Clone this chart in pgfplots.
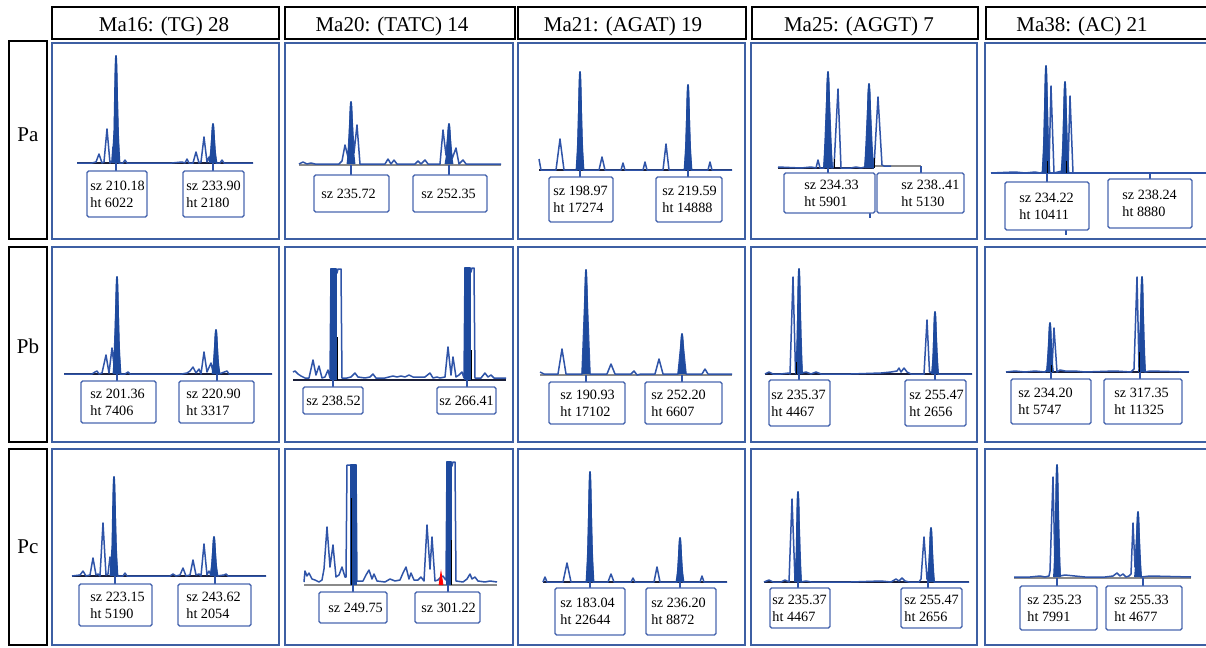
\documentclass[border=0pt]{standalone}
\usepackage{fontspec}
\setmainfont{Liberation Serif}
\usepackage{pgfplots}
\pgfplotsset{compat=1.18}
\definecolor{tr}{HTML}{2F54A8}
\definecolor{fb}{HTML}{1E4A9E}
\definecolor{pb}{HTML}{3D5FA3}
\definecolor{bx}{HTML}{4A68B0}
\definecolor{dk}{HTML}{1A1F3A}
\definecolor{gr}{HTML}{8A8A8A}
\tikzset{
 trc/.style={draw=tr, line width=0.75pt, mark=none, line join=round},
 fpk/.style={fill=fb, draw=fb, line width=0.9pt, mark=none, line join=round},
 bl/.style={draw=#1, line width=1.1pt, mark=none},
 tk/.style={draw=tr, line width=1.2pt, mark=none},
 blk/.style={draw=black, line width=0.5pt, mark=none},
 lbox/.style={draw=bx, line width=0.7pt, rounded corners=0.8pt, fill=white},
 lt/.style={anchor=west, align=left, font=\fontsize{7.1}{8.6}\selectfont, inner sep=0pt},
}
\pgfplotsset{
 panel/.style n args={4}{at={(#1*0.5pt,-#2*0.5pt)}, anchor=north west, x=0.5pt, y=0.5pt,
   xmin=0, xmax=#3, ymin=0, ymax=#4, y dir=reverse, ticks=none,
   axis line style={draw=pb, line width=1pt}, clip=false},
}
\newcommand{\LB}[6]{\draw[lbox] (#1,#2) rectangle (#3,#4); \node[lt] at (#5,{(#2+#4)/2}) {#6};}
\begin{document}
\begin{tikzpicture}
\useasboundingbox (0,0) rectangle (603pt,-324pt);
\fill[white] (0,0) rectangle (603pt,-324pt);
\clip (0,0) rectangle (603pt,-324pt);
\begin{scope}[x=0.5pt,y=-0.5pt]
\draw[line width=0.6pt] (52,7) rectangle (279,39);
\draw[line width=0.6pt] (285,7) rectangle (515,39);
\draw[line width=0.6pt] (518,7) rectangle (746,39);
\draw[line width=0.6pt] (752,7) rectangle (978,39);
\draw[line width=0.6pt] (986,7) rectangle (1212,39);
\node[anchor=base, font=\fontsize{10.5}{12}\selectfont, inner sep=0pt] at (164,32) {Ma16: (TG) 28};
\node[anchor=base, font=\fontsize{10.5}{12}\selectfont, inner sep=0pt] at (392,32) {Ma20: (TATC) 14};
\node[anchor=base, font=\fontsize{10.5}{12}\selectfont, inner sep=0pt] at (623,32) {Ma21: (AGAT) 19};
\node[anchor=base, font=\fontsize{10.5}{12}\selectfont, inner sep=0pt] at (859,32) {Ma25: (AGGT) 7};
\node[anchor=base, font=\fontsize{10.5}{12}\selectfont, inner sep=0pt] at (1082,32) {Ma38: (AC) 21};
\draw[line width=0.75pt] (9,41) rectangle (47,239);
\draw[line width=0.75pt] (9,247) rectangle (47,442);
\draw[line width=0.75pt] (9,449) rectangle (47,645);
\node[anchor=base, font=\fontsize{10.5}{12}\selectfont, inner sep=0pt] at (28,141) {Pa};
\node[anchor=base, font=\fontsize{10.5}{12}\selectfont, inner sep=0pt] at (28,353) {Pb};
\node[anchor=base, font=\fontsize{10.5}{12}\selectfont, inner sep=0pt] at (28,553) {Pc};
\end{scope}

% ---------- Row Pa ----------
\begin{axis}[panel={52}{43}{227}{196}]
\addplot[bl=dk] coordinates {(25,120)(201,120)};
\addplot[trc] coordinates {(25,120)(40,120)(44,119)(47,111)(50,120)(52,119)(55,86)(58,120)(60,118)(61,104)(62,112)(64,13)(67,120)(71,120)(73,117)(75,120)(120,120)(130,119)(133,120)(135,116)(137,120)(141,120)(144,109)(147,120)(149,119)(152,94)(155,119)(157,114)(158,119)(161,81)(164,120)(168,120)(170,117)(172,120)(201,120)};
\addplot[fpk] coordinates {(60.5,120)(62.4,88)(63.5,24)(64,13)(64.5,24)(65.6,88)(67.5,120)};
\addplot[fpk] coordinates {(157.5,120)(159.4,108)(160.5,85)(161,81)(161.5,85)(162.6,108)(164.5,120)};
\addplot[tk] coordinates {(64,120)(64,128)};
\addplot[tk] coordinates {(161,120)(161,128)};
\LB{35}{128}{95}{174}{38}{sz 210.18\\ht 6022}
\LB{131}{128}{192}{174}{134}{sz 233.90\\ht 2180}
\end{axis}

\begin{axis}[panel={285}{43}{228}{196}]
\addplot[bl=gr] coordinates {(14,122)(216,122)};
\addplot[trc] coordinates {(14,121)(18,119)(22,121)(26,120)(30,121)(54,121)(57,118)(60,102)(63,114)(66,59)(69,110)(72,82)(75,121)(100,121)(103,116)(106,121)(109,117)(112,121)(130,121)(133,118)(136,121)(140,117)(143,121)(155,121)(158,87)(161,112)(164,81)(167,116)(171,105)(174,121)(176,119)(178,117)(181,121)(216,121)};
\addplot[fpk] coordinates {(62.5,121)(64.4,102)(65.5,65)(66,59)(66.5,65)(67.6,102)(69.5,121)};
\addplot[fpk] coordinates {(160.5,121)(162.4,109)(163.5,85)(164,81)(164.5,85)(165.6,109)(167.5,121)};
\addplot[tk] coordinates {(66,122)(66,132)};
\addplot[tk] coordinates {(164,122)(164,132)};
\LB{29}{132}{104}{169}{36}{sz 235.72}
\LB{128}{132}{202}{169}{136}{sz 252.35}
\end{axis}

\begin{axis}[panel={518}{43}{227}{196}]
\addplot[bl=dk] coordinates {(21,127)(214,127)};
\addplot[trc] coordinates {(21,116)(23,127)(38,127)(42,96)(46,127)(59,127)(62,29)(65,127)(81,127)(84,114)(87,127)(103,127)(105,120)(107,127)(125,127)(127,119)(129,127)(145,127)(148,101)(151,127)(167,127)(170,42)(173,127)(190,127)(192,119)(194,127)(214,127)};
\addplot[fpk] coordinates {(58.5,127)(60.4,98)(61.5,39)(62,29)(62.5,39)(63.6,98)(65.5,127)};
\addplot[fpk] coordinates {(166.5,127)(168.4,101)(169.5,50)(170,42)(170.5,50)(171.6,101)(173.5,127)};
\addplot[tk] coordinates {(62,127)(62,134)};
\addplot[tk] coordinates {(170,127)(170,134)};
\LB{31}{134}{95}{179}{35}{sz 198.97\\ht 17274}
\LB{138}{134}{204}{179}{144}{sz 219.59\\ht 14888}
\end{axis}

\begin{axis}[panel={751}{43}{226}{196}]
\addplot[bl=dk] coordinates {(27,125)(123,125)};
\addplot[draw=gr, line width=0.6pt] coordinates {(123,123)(170,123)};
\addplot[trc] coordinates {(27,124)(50,125)(60,124)(65,125)(67,117)(69,125)(73,125)(77,29)(81,125)(83,124)(87,46)(90,125)(100,125)(105,124)(110,125)(114,124)(118,41)(122,125)(123,124)(127,54)(131,122)(133,123)(140,123)};
\addplot[fpk] coordinates {(73,125)(75,96)(76.4,39)(77,29)(77.6,39)(79,96)(81,125)};
\addplot[fpk] coordinates {(114,125)(116,100)(117.4,49)(118,41)(118.6,49)(120,100)(122,125)};
\addplot[blk] coordinates {(83,116)(83,125)};
\addplot[blk] coordinates {(123,115)(123,125)};
\addplot[tk] coordinates {(77,125)(77,130)};
\addplot[tk] coordinates {(170,123)(170,130)};
\addplot[tk] coordinates {(119,170)(119,175)};
\LB{33}{130}{124}{170}{53}{sz 234.33\\ht 5901}
\LB{126}{130}{213}{170}{150}{sz 238..41\\ht 5130}
\end{axis}

\begin{axis}[panel={985}{43}{227}{196}]
\addplot[bl=tr] coordinates {(6,130)(227,130)};
\addplot[trc] coordinates {(6,130)(30,129)(40,130)(50,129)(55,130)(58,129)(61,23)(64,126)(66,43)(69,130)(73,129)(77,128)(80,39)(83,126)(85,53)(88,130)(227,130)};
\addplot[fpk] coordinates {(57.5,130)(59.4,98)(60.5,34)(61,23)(61.5,34)(62.6,98)(64.5,130)};
\addplot[fpk] coordinates {(76.5,130)(78.4,103)(79.5,48)(80,39)(80.5,48)(81.6,103)(83.5,130)};
\addplot[blk] coordinates {(62,118)(62,130)};
\addplot[blk] coordinates {(81,118)(81,130)};
\addplot[tk] coordinates {(62,130)(62,139)};
\addplot[tk] coordinates {(165,130)(165,136)};
\addplot[tk] coordinates {(81,187)(81,192)};
\LB{20}{139}{104}{187}{34}{sz 234.22\\ht 10411}
\LB{123}{136}{207}{185}{137}{sz 238.24\\ht 8880}
\end{axis}

% ---------- Row Pb ----------
\begin{axis}[panel={52}{247}{227}{195}]
\addplot[bl=dk] coordinates {(12,127)(220,127)};
\addplot[trc] coordinates {(12,127)(40,127)(43,125)(45,124)(47,127)(50,126)(54,108)(57,126)(60,101)(62,118)(65,30)(68,127)(73,127)(76,125)(78,127)(130,127)(135,126)(138,124)(141,120)(144,126)(147,122)(149,127)(152,105)(155,125)(159,116)(161,125)(164,83)(167,127)(175,124)(177,127)(220,127)};
\addplot[fpk] coordinates {(61.5,127)(63.4,98)(64.5,40)(65,30)(65.5,40)(66.6,98)(68.5,127)};
\addplot[fpk] coordinates {(160.5,127)(162.4,114)(163.5,87)(164,83)(164.5,87)(165.6,114)(167.5,127)};
\addplot[tk] coordinates {(65,127)(65,134)};
\addplot[tk] coordinates {(165,127)(165,134)};
\LB{29}{134}{104}{176}{38}{sz 201.36\\ht 7406}
\LB{127}{134}{202}{176}{134}{sz 220.90\\ht 3317}
\end{axis}

\begin{axis}[panel={285}{247}{228}{195}]
\addplot[bl=dk] coordinates {(8,133)(221,133)};
\addplot[trc] coordinates {(8,125)(10,124)(13,127)(16,129)(20,131)(24,131)(28,113)(31,128)(34,119)(37,131)(40,130)(43,123)(45,131)(46,22)(51,22)(52,26)(53,22)(56,22)(57,131)(62,131)(66,130)(70,126)(73,130)(80,131)(85,130)(88,127)(91,131)(100,131)(108,129)(112,130)(116,129)(120,130)(124,128)(128,130)(140,130)(145,126)(148,131)(152,130)(155,131)(160,130)(163,100)(166,128)(168,110)(171,130)(174,128)(177,125)(179,131)(180,21)(185,21)(186,25)(187,21)(189,21)(190,131)(196,131)(200,126)(203,130)(206,128)(209,131)(221,131)};
\addplot[fpk] coordinates {(46,133)(46,22)(51,22)(51,133)};
\addplot[fpk] coordinates {(180,133)(180,21)(185,21)(185,133)};
\addplot[blk] coordinates {(52,90)(52,133)};
\addplot[blk] coordinates {(186,103)(186,133)};
\addplot[tk] coordinates {(48,133)(48,140)};
\addplot[tk] coordinates {(182,133)(182,140)};
\LB{18}{140}{78}{167}{21}{sz 238.52}
\LB{152}{140}{211}{167}{154}{sz 266.41}
\end{axis}

\begin{axis}[panel={518}{247}{227}{195}]
\addplot[bl=gr] coordinates {(22,128)(214,128)};
\addplot[trc] coordinates {(22,125)(26,127)(40,127)(44,102)(48,127)(64,127)(68,23)(72,127)(89,127)(93,117)(97,127)(113,127)(116,124)(119,128)(123,127)(137,127)(141,112)(145,127)(160,127)(164,87)(168,127)(184,127)(187,122)(190,127)(214,127)};
\addplot[fpk] coordinates {(64.5,127)(66.4,96)(67.5,33)(68,23)(68.5,33)(69.6,96)(71.5,127)};
\addplot[fpk] coordinates {(160.5,127)(162.4,115)(163.5,91)(164,87)(164.5,91)(165.6,115)(167.5,127)};
\addplot[tk] coordinates {(68,128)(68,135)};
\addplot[tk] coordinates {(164,128)(164,135)};
\LB{31}{135}{107}{177}{42}{sz 190.93\\ht 17102}
\LB{127}{135}{204}{177}{133}{sz 252.20\\ht 6607}
\end{axis}

\begin{axis}[panel={751}{247}{226}{195}]
\addplot[bl=dk] coordinates {(14,127)(221,127)};
\addplot[trc] coordinates {(14,127)(18,125)(22,127)(30,127)(38,126)(39,127)(42,30)(44.5,124)(45.5,124)(48,22)(51,126)(55,125)(60,127)(65,125)(70,127)(100,127)(130,126)(140,125)(146,124)(148,121)(150,125)(153,121)(156,125)(160,127)(170,127)(173,127)(176,73)(178.5,125)(181.5,125)(184,65)(187,127)(221,127)};
\addplot[fpk] coordinates {(45,127)(46.6,95)(47.5,32)(48,22)(48.5,32)(49.4,95)(51,127)};
\addplot[fpk] coordinates {(181,127)(182.6,108)(183.5,71)(184,65)(184.5,71)(185.4,108)(187,127)};
\addplot[blk] coordinates {(45,115)(45,127)};
\addplot[tk] coordinates {(48,127)(48,133)};
\addplot[tk] coordinates {(184,127)(184,133)};
\LB{18}{133}{79}{179}{20}{sz 235.37\\ht 4467}
\LB{154}{133}{215}{179}{158}{sz 255.47\\ht 2656}
\end{axis}

\begin{axis}[panel={985}{247}{227}{195}]
\addplot[bl=dk] coordinates {(21,125)(204,125)};
\addplot[trc] coordinates {(21,125)(30,124)(40,125)(50,124)(60,125)(62,123)(65,76)(67,121)(69,81)(72,125)(75,123)(80,124)(90,124)(100,125)(130,124)(146,125)(149,122)(152,30)(154,120)(157,30)(160,125)(165,124)(204,125)};
\addplot[fpk] coordinates {(62,125)(63.6,110)(64.5,81)(65,76)(65.5,81)(66.4,110)(68,125)};
\addplot[fpk] coordinates {(154,125)(155.6,97)(156.5,40)(157,30)(157.5,40)(158.4,97)(160,125)};
\addplot[blk] coordinates {(66,118)(66,125)};
\addplot[blk] coordinates {(154,105)(154,125)};
\addplot[tk] coordinates {(66,125)(66,132)};
\addplot[tk] coordinates {(155,125)(155,132)};
\LB{26}{132}{106}{177}{33}{sz 234.20\\ht 5747}
\LB{119}{132}{197}{177}{129}{sz 317.35\\ht 11325}
\end{axis}

% ---------- Row Pc ----------
\begin{axis}[panel={52}{449}{227}{196}]
\addplot[bl=dk] coordinates {(20,127)(214,127)};
\addplot[trc] coordinates {(20,127)(28,126)(31,122)(34,127)(38,126)(41,109)(44,126)(46,125)(48,127)(51,74)(54,126)(56,125)(58,108)(60,125)(62,28)(65,127)(71,127)(73,124)(75,127)(118,127)(121,125)(124,127)(128,126)(131,119)(134,127)(138,126)(141,111)(144,126)(147,125)(149,127)(152,95)(155,126)(157,122)(159,126)(162,88)(165,127)(172,126)(174,125)(176,127)(214,127)};
\addplot[fpk] coordinates {(58.5,127)(60.4,97)(61.5,38)(62,28)(62.5,38)(63.6,97)(65.5,127)};
\addplot[fpk] coordinates {(158.5,127)(160.4,115)(161.5,92)(162,88)(162.5,92)(163.6,115)(165.5,127)};
\addplot[tk] coordinates {(63,127)(63,135)};
\addplot[tk] coordinates {(163,127)(163,135)};
\LB{27}{135}{100}{177}{38}{sz 223.15\\ht 5190}
\LB{126}{135}{199}{177}{134}{sz 243.62\\ht 2054}
\end{axis}

\begin{axis}[panel={285}{449}{228}{196}]
\addplot[bl=gr] coordinates {(19,136)(212,136)};
\addplot[trc] coordinates {(19,133)(20,122)(22,127)(24,124)(27,130)(30,131)(34,133)(37,131)(39,120)(42,78)(45,118)(48,96)(51,128)(54,126)(57,118)(60,128)(61,128)(62,16)(66,16)(67,20)(68,16)(71,16)(72,132)(78,132)(81,126)(84,121)(87,130)(89,125)(92,132)(100,133)(105,130)(110,132)(115,131)(118,124)(121,118)(124,130)(126,124)(129,131)(133,131)(136,128)(139,132)(142,76)(145,120)(147,88)(150,132)(153,131)(156,128)(158,127)(160,130)(161,131)(162,13)(166,13)(167,17)(168,13)(170,13)(171,132)(178,133)(182,130)(185,125)(187,130)(190,128)(193,132)(200,133)(205,132)(212,133)};
\addplot[fpk] coordinates {(66,136)(66,16)(71,16)(71,136)};
\addplot[fpk] coordinates {(162,136)(162,13)(166,13)(166,136)};
\addplot[fill=red, draw=red, mark=none] coordinates {(154,136)(156,123)(158,136)};
\addplot[blk] coordinates {(66,49)(66,136)};
\addplot[blk] coordinates {(166,91)(166,136)};
\addplot[tk] coordinates {(68,136)(68,143)};
\addplot[tk] coordinates {(163,136)(163,143)};
\LB{34}{143}{102}{174}{43}{sz 249.75}
\LB{130}{143}{195}{174}{136}{sz 301.22}
\end{axis}

\begin{axis}[panel={518}{449}{227}{196}]
\addplot[bl=dk] coordinates {(25,133)(209,133)};
\addplot[trc] coordinates {(25,133)(27,128)(29,133)(45,133)(49,114)(53,133)(69,133)(72,23)(75,133)(90,133)(93,125)(96,133)(113,133)(115,129)(117,133)(136,133)(139,118)(142,133)(159,133)(162,89)(165,133)(182,133)(184,127)(186,133)(209,133)};
\addplot[fpk] coordinates {(68.5,133)(70.4,100)(71.5,34)(72,23)(72.5,34)(73.6,100)(75.5,133)};
\addplot[fpk] coordinates {(158.5,133)(160.4,120)(161.5,93)(162,89)(162.5,93)(163.6,120)(165.5,133)};
\addplot[tk] coordinates {(72,133)(72,139)};
\addplot[tk] coordinates {(162,133)(162,139)};
\LB{37}{139}{107}{186}{42}{sz 183.04\\ht 22644}
\LB{128}{139}{198}{186}{133}{sz 236.20\\ht 8872}
\end{axis}

\begin{axis}[panel={751}{449}{226}{196}]
\addplot[bl=dk] coordinates {(13,133)(218,133)};
\addplot[trc] coordinates {(13,133)(18,131)(22,133)(30,133)(34,131)(38,133)(41,50)(44,131)(45,131)(47,43)(50,133)(55,132)(60,133)(100,133)(130,132)(140,133)(145,130)(148,132)(151,129)(154,132)(158,133)(168,133)(170,130)(173,88)(176,130)(177,131)(180,79)(183,133)(218,133)};
\addplot[fpk] coordinates {(44,133)(45.6,106)(46.5,52)(47,43)(47.5,52)(48.4,106)(50,133)};
\addplot[fpk] coordinates {(177,133)(178.6,117)(179.5,84)(180,79)(180.5,84)(181.4,117)(183,133)};
\addplot[tk] coordinates {(47,133)(47,139)};
\addplot[tk] coordinates {(177,133)(177,139)};
\LB{19}{139}{79}{179}{21}{sz 235.37\\ht 4467}
\LB{150}{139}{211}{179}{153}{sz 255.47\\ht 2656}
\end{axis}

\begin{axis}[panel={985}{449}{227}{196}]
\addplot[bl=gr] coordinates {(29,129)(206,129)};
\addplot[trc] coordinates {(29,128)(45,128)(55,127)(60,128)(64,127)(65,122)(68,28)(70,120)(72,16)(75,127)(80,126)(90,127)(100,128)(120,128)(128,127)(132,124)(135,127)(138,125)(141,128)(144,127)(146,125)(148,74)(150,118)(153,63)(156,128)(165,127)(206,128)};
\addplot[fpk] coordinates {(69,128)(70.6,94)(71.5,27)(72,16)(72.5,27)(73.4,94)(75,128)};
\addplot[fpk] coordinates {(150,128)(151.6,108)(152.5,70)(153,63)(153.5,70)(154.4,108)(156,128)};
\addplot[tk] coordinates {(72,129)(72,137)};
\addplot[tk] coordinates {(158,129)(158,137)};
\LB{35}{137}{112}{181}{42}{sz 235.23\\ht 7991}
\LB{121}{137}{197}{181}{129}{sz 255.33\\ht 4677}
\end{axis}
\end{tikzpicture}
\end{document}
